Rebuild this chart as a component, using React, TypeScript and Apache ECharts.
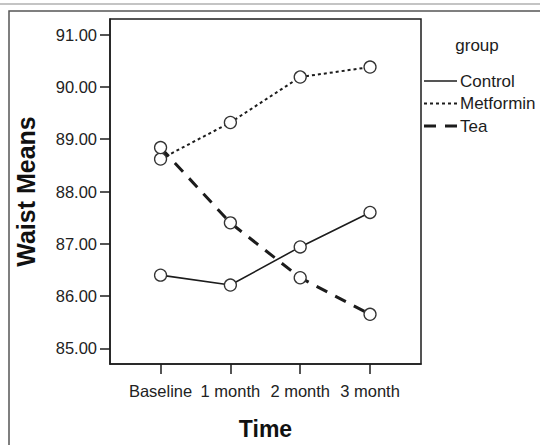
import React, { useEffect, useRef } from "react";
import * as echarts from "echarts";

const categories = ["Baseline", "1 month", "2 month", "3 month"];
const groupNames = ["Control", "Metformin", "Tea"];
const controlValues = [86.4, 86.21, 86.94, 87.6];
const metforminValues = [88.62, 89.32, 90.19, 90.38];
const teaValues = [88.84, 87.4, 86.35, 85.65];
const yTicks = [85, 86, 87, 88, 89, 90, 91];

const FONT = "'Liberation Sans', Arial, sans-serif";
const INK = "#1c1c1c";

export default function App() {
  const ref = useRef<HTMLDivElement>(null);
  useEffect(() => {
    if (!ref.current) return;
    const chart = echarts.init(ref.current, null, { renderer: "svg" });
    const allValues = [controlValues, metforminValues, teaValues];
    const lineTypes: any[] = ["solid", [3, 3], [12, 9]];
    const lineWidths = [1.6, 2, 3];
    const series = groupNames.map((name, s) => ({
      name,
      type: "line",
      data: allValues[s].map((v, i) => [i, v]),
      symbol: "circle",
      symbolSize: 12,
      z: s === 2 ? 3 : 2,
      lineStyle: { color: INK, width: lineWidths[s], type: lineTypes[s] },
      itemStyle: { color: "#ffffff", borderColor: "#333", borderWidth: 1.3 },
    }));

    const legendItems: any[] = [
      {
        type: "text",
        x: 477,
        y: 45,
        style: { text: "group", font: `17px ${FONT}`, fill: INK, align: "center", verticalAlign: "middle" },
      },
    ];
    groupNames.forEach((name, s) => {
      const yy = 81 + s * 22.5;
      legendItems.push({
        type: "line",
        shape: { x1: 424, y1: yy, x2: 457, y2: yy },
        style: {
          stroke: INK,
          lineWidth: lineWidths[s],
          lineDash: s === 0 ? null : (lineTypes[s] as number[]),
        },
      });
      legendItems.push({
        type: "text",
        x: 460,
        y: yy,
        style: { text: name, font: `17px ${FONT}`, fill: INK, align: "left", verticalAlign: "middle" },
      });
    });

    chart.setOption({
      animation: false,
      backgroundColor: "#ffffff",
      grid: {
        left: 110,
        top: 19,
        right: 119,
        bottom: 79,
        show: true,
        borderColor: INK,
        borderWidth: 1.5,
        backgroundColor: "transparent",
      },
      xAxis: {
        type: "value",
        min: -0.724,
        max: 3.73,
        name: "Time",
        nameLocation: "middle",
        nameGap: 53,
        nameTextStyle: { fontFamily: FONT, fontSize: 23, fontWeight: "bold", color: "#111" },
        axisLine: { show: true, onZero: false, lineStyle: { color: INK, width: 1.5 } },
        axisTick: { show: true, length: 10, customValues: [0, 1, 2, 3], lineStyle: { color: INK, width: 1.5 } },
        axisLabel: {
          customValues: [0, 1, 2, 3],
          formatter: (v: number) => categories[Math.round(v)] ?? "",
          fontFamily: FONT,
          fontSize: 16.5,
          color: "#222",
          margin: 18,
        },
        splitLine: { show: false },
      },
      yAxis: {
        type: "value",
        min: 84.7,
        max: 91.3,
        name: "Waist Means",
        nameLocation: "middle",
        nameGap: 72,
        nameRotate: 90,
        nameTextStyle: { fontFamily: FONT, fontSize: 25, fontWeight: "bold", color: "#111" },
        axisLine: { show: true, onZero: false, lineStyle: { color: INK, width: 1.5 } },
        axisTick: { show: true, length: 10, customValues: yTicks, lineStyle: { color: INK, width: 1.5 } },
        axisLabel: {
          customValues: yTicks,
          formatter: (v: number) => v.toFixed(2),
          fontFamily: FONT,
          fontSize: 16.5,
          color: "#222",
          margin: 13,
        },
        splitLine: { show: false },
      },
      series,
      graphic: [
        {
          type: "line",
          shape: { x1: 0, y1: 4, x2: 540, y2: 4 },
          style: { stroke: "#b0b0b0", lineWidth: 1.5 },
        },
        {
          type: "polyline",
          shape: { points: [[9, 460], [9, 11], [560, 11]] },
          style: { stroke: "#555", lineWidth: 1.5, fill: null },
        },
        ...legendItems,
      ],
    });
    return () => chart.dispose();
  }, []);
  return <div ref={ref} style={{ width: 540, height: 445, position: "absolute", left: 0, top: 0 }} />;
}
